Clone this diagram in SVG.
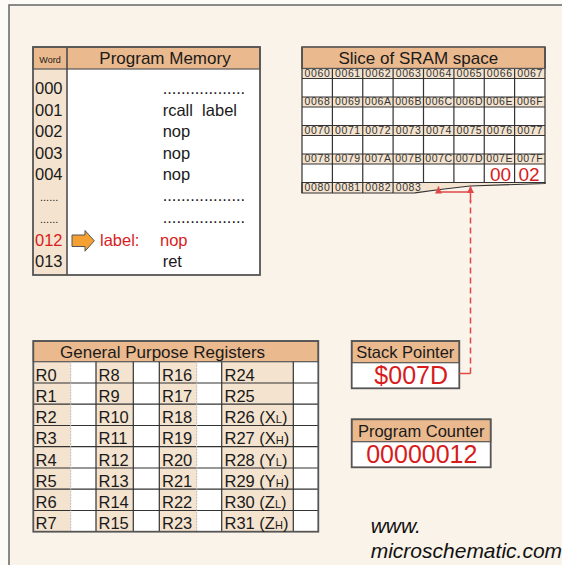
<svg xmlns="http://www.w3.org/2000/svg" width="562" height="565" viewBox="0 0 562 565">
<defs>
<style>
text{font-family:"Liberation Sans",Arial,sans-serif;fill:#1a1a1a}
.hdr{fill:#EAB98E;stroke:#555;stroke-width:1.2}
.tan{fill:#F3E3CF}
.wht{fill:#fff}
.box{fill:none;stroke:#555;stroke-width:1.8}
.grid{fill:none;stroke:#333;stroke-width:1.2}
.faint{fill:none;stroke:#bbb;stroke-width:1;stroke-dasharray:2,1}
.ttl{font-size:17px;text-anchor:middle}
.pm{font-size:16.5px}
.red{fill:#d81c1c}
.addr{font-size:10.5px;letter-spacing:0.6px;text-anchor:middle;fill:#333}
.reg{font-size:16.5px}
.sub{font-size:11px}
.big{font-size:25px;text-anchor:middle;fill:#d81c1c}
.lbl{font-size:16.5px;text-anchor:middle}
.wm{font-size:21px;font-style:italic;fill:#111}
.conn{fill:none;stroke:#e04848;stroke-width:1.5}
</style>
<marker id="ah" viewBox="0 0 8 8" refX="8" refY="4" markerWidth="7" markerHeight="7" orient="auto" markerUnits="userSpaceOnUse"><path d="M0,0 L8,4 L0,8 z" fill="#e04848"/></marker>
</defs>
<rect x="0" y="0" width="562" height="565" fill="#FDFBF8"/>
<rect x="9" y="5" width="620" height="620" fill="#FAF3E9" stroke="#666" stroke-width="1.5"/>

<g id="program-memory">
<rect x="33" y="47" width="227" height="228" class="wht"/>
<rect x="33" y="47" width="34" height="228" class="tan"/>
<rect x="33" y="47" width="227" height="22" class="hdr"/>
<line x1="67" y1="47" x2="67" y2="275" stroke="#444" stroke-width="1.5"/>
<rect x="33" y="47" width="227" height="228" class="box"/>
<text x="50" y="63" font-size="9" text-anchor="middle">Word</text>
<text x="165" y="63.5" class="ttl">Program Memory</text>
<text x="35" y="94.3" class="pm">000</text>
<text x="35" y="115.5" class="pm">001</text>
<text x="35" y="137" class="pm">002</text>
<text x="35" y="158.5" class="pm">003</text>
<text x="35" y="180" class="pm">004</text>
<text x="40" y="201" font-size="11">......</text>
<text x="40" y="222.5" font-size="11">......</text>
<text x="35" y="245.7" class="pm red">012</text>
<text x="35" y="267" class="pm">013</text>
<text x="162.7" y="94.3" class="pm">..................</text>
<text x="162.7" y="115.5" class="pm" xml:space="preserve">rcall  label</text>
<text x="162.7" y="137" class="pm">nop</text>
<text x="162.7" y="158.5" class="pm">nop</text>
<text x="162.7" y="180" class="pm">nop</text>
<text x="162.7" y="201" class="pm">..................</text>
<text x="162.7" y="222.5" class="pm">..................</text>
<text x="100" y="245.7" class="pm red">label:</text>
<text x="160" y="245.7" class="pm red">nop</text>
<text x="162.7" y="267" class="pm">ret</text>
<path d="M72,235 H85 V230.5 L94.3,240.8 L85,251.2 V246.5 H72 Z" fill="#F5A033" stroke="#555" stroke-width="1"/>
</g>

<g id="sram">
<rect x="302" y="47" width="243" height="21.5" class="hdr"/>
<text x="418.3" y="63.5" class="ttl">Slice of SRAM space</text>
<rect x="302" y="68.5" width="243" height="10" class="tan"/>
<rect x="302" y="78.5" width="243" height="18.5" class="wht"/>
<rect x="302" y="97" width="243" height="10" class="tan"/>
<rect x="302" y="107" width="243" height="18.5" class="wht"/>
<rect x="302" y="125.5" width="243" height="10" class="tan"/>
<rect x="302" y="135.5" width="243" height="18.5" class="wht"/>
<rect x="302" y="154" width="243" height="10" class="tan"/>
<rect x="302" y="164" width="243" height="18.5" class="wht"/>
<path d="M302,182.5 H545 V183.5 L470,186 L440,189.5 L415,192.8 L302,193 Z" class="tan" stroke="#333" stroke-width="1.2"/>
<path class="grid" d="M302,68.5 H545 M302,78.5 H545 M302,97 H545 M302,107 H545 M302,125.5 H545 M302,135.5 H545 M302,154 H545 M302,164 H545 M302,182.5 H545 M302,47 V193 M545,47 V183.5 M332.4,68.5 V193 M362.75,68.5 V193 M393.1,68.5 V193 M423.5,68.5 V182.5 M453.9,68.5 V182.5 M484.25,68.5 V182.5 M514.6,68.5 V182.5"/>
<rect x="302" y="47" width="243" height="21.5" fill="none" stroke="#555" stroke-width="1.2"/>
<text x="317.5" y="76.8" class="addr">0060</text><text x="347.9" y="76.8" class="addr">0061</text><text x="378.2" y="76.8" class="addr">0062</text><text x="408.6" y="76.8" class="addr">0063</text><text x="439" y="76.8" class="addr">0064</text><text x="469.4" y="76.8" class="addr">0065</text><text x="499.7" y="76.8" class="addr">0066</text><text x="530.1" y="76.8" class="addr">0067</text>
<text x="317.5" y="105.3" class="addr">0068</text><text x="347.9" y="105.3" class="addr">0069</text><text x="378.2" y="105.3" class="addr">006A</text><text x="408.6" y="105.3" class="addr">006B</text><text x="439" y="105.3" class="addr">006C</text><text x="469.4" y="105.3" class="addr">006D</text><text x="499.7" y="105.3" class="addr">006E</text><text x="530.1" y="105.3" class="addr">006F</text>
<text x="317.5" y="133.8" class="addr">0070</text><text x="347.9" y="133.8" class="addr">0071</text><text x="378.2" y="133.8" class="addr">0072</text><text x="408.6" y="133.8" class="addr">0073</text><text x="439" y="133.8" class="addr">0074</text><text x="469.4" y="133.8" class="addr">0075</text><text x="499.7" y="133.8" class="addr">0076</text><text x="530.1" y="133.8" class="addr">0077</text>
<text x="317.5" y="162.3" class="addr">0078</text><text x="347.9" y="162.3" class="addr">0079</text><text x="378.2" y="162.3" class="addr">007A</text><text x="408.6" y="162.3" class="addr">007B</text><text x="439" y="162.3" class="addr">007C</text><text x="469.4" y="162.3" class="addr">007D</text><text x="499.7" y="162.3" class="addr">007E</text><text x="530.1" y="162.3" class="addr">007F</text>
<text x="317.5" y="190.8" class="addr">0080</text><text x="347.9" y="190.8" class="addr">0081</text><text x="378.2" y="190.8" class="addr">0082</text><text x="408.6" y="190.8" class="addr">0083</text>
<text x="500.5" y="181" font-size="19" text-anchor="middle" class="red">00</text>
<text x="529" y="181" font-size="19" text-anchor="middle" class="red">02</text>
</g>

<g id="registers">
<rect x="33.3" y="361.7" width="285" height="170" class="wht"/>
<rect x="33.3" y="361.7" width="37.4" height="170" class="tan"/>
<rect x="96" y="361.7" width="37.3" height="170" class="tan"/>
<rect x="159.3" y="361.7" width="37.4" height="170" class="tan"/>
<rect x="221.7" y="361.7" width="71.6" height="170" class="tan"/>
<rect x="33.3" y="341" width="285" height="20.7" class="hdr"/>
<path class="grid" d="M33.3,383 H318.3 M33.3,404.2 H318.3 M33.3,425.5 H318.3 M33.3,446.7 H318.3 M33.3,468 H318.3 M33.3,489.2 H318.3 M33.3,510.5 H318.3 M96,361.7 V531.7 M133.3,361.7 V531.7 M159.3,361.7 V531.7 M221.7,361.7 V531.7 M293.3,361.7 V531.7"/>
<path class="faint" d="M70.7,361.7 V531.7 M196.7,361.7 V531.7"/>
<rect x="33.3" y="341" width="285" height="190.7" class="box"/>
<text x="60" y="357.5" font-size="17">General Purpose Registers</text>
<text x="35.5" y="380.5" class="reg">R0</text><text x="35.5" y="401.7" class="reg">R1</text><text x="35.5" y="423" class="reg">R2</text><text x="35.5" y="444.2" class="reg">R3</text><text x="35.5" y="465.5" class="reg">R4</text><text x="35.5" y="486.7" class="reg">R5</text><text x="35.5" y="508" class="reg">R6</text><text x="35.5" y="529.2" class="reg">R7</text>
<text x="98.5" y="380.5" class="reg">R8</text><text x="98.5" y="401.7" class="reg">R9</text><text x="98.5" y="423" class="reg">R10</text><text x="98.5" y="444.2" class="reg">R11</text><text x="98.5" y="465.5" class="reg">R12</text><text x="98.5" y="486.7" class="reg">R13</text><text x="98.5" y="508" class="reg">R14</text><text x="98.5" y="529.2" class="reg">R15</text>
<text x="162" y="380.5" class="reg">R16</text><text x="162" y="401.7" class="reg">R17</text><text x="162" y="423" class="reg">R18</text><text x="162" y="444.2" class="reg">R19</text><text x="162" y="465.5" class="reg">R20</text><text x="162" y="486.7" class="reg">R21</text><text x="162" y="508" class="reg">R22</text><text x="162" y="529.2" class="reg">R23</text>
<text x="224.5" y="380.5" class="reg">R24</text><text x="224.5" y="401.7" class="reg">R25</text>
<text x="224.5" y="423" class="reg">R26 (X<tspan class="sub">L</tspan>)</text>
<text x="224.5" y="444.2" class="reg">R27 (X<tspan class="sub">H</tspan>)</text>
<text x="224.5" y="465.5" class="reg">R28 (Y<tspan class="sub">L</tspan>)</text>
<text x="224.5" y="486.7" class="reg">R29 (Y<tspan class="sub">H</tspan>)</text>
<text x="224.5" y="508" class="reg">R30 (Z<tspan class="sub">L</tspan>)</text>
<text x="224.5" y="529.2" class="reg">R31 (Z<tspan class="sub">H</tspan>)</text>
</g>

<g id="stack-pointer">
<rect x="351.7" y="362.7" width="107.6" height="25.6" class="wht"/>
<rect x="351.7" y="341" width="107.6" height="21.7" class="hdr"/>
<rect x="351.7" y="341" width="107.6" height="47.3" class="box"/>
<text x="405.3" y="358.3" class="lbl">Stack Pointer</text>
<text x="411.2" y="384" class="big">$007D</text>
</g>

<g id="program-counter">
<rect x="351.7" y="441.7" width="139" height="25.6" class="wht"/>
<rect x="351.7" y="419.3" width="139" height="22.4" class="hdr"/>
<rect x="351.7" y="419.3" width="139" height="48" class="box"/>
<text x="421.2" y="437.3" class="lbl">Program Counter</text>
<text x="421.8" y="463.3" class="big">00000012</text>
</g>

<g id="connectors">
<path class="conn" d="M459.3,373.5 H470.5"/>
<path class="conn" stroke-dasharray="6,4" d="M470.5,373.5 V200"/>
<path class="conn" d="M470.5,202 V186" marker-end="url(#ah)"/>
<path class="conn" d="M438.5,192 H470.5"/>
<path class="conn" d="M438.5,192 V186.5" marker-end="url(#ah)"/>
</g>

<g id="watermark">
<text x="370.7" y="533" class="wm">www.</text>
<text x="370.7" y="558" class="wm">microschematic.com</text>
</g>
</svg>
